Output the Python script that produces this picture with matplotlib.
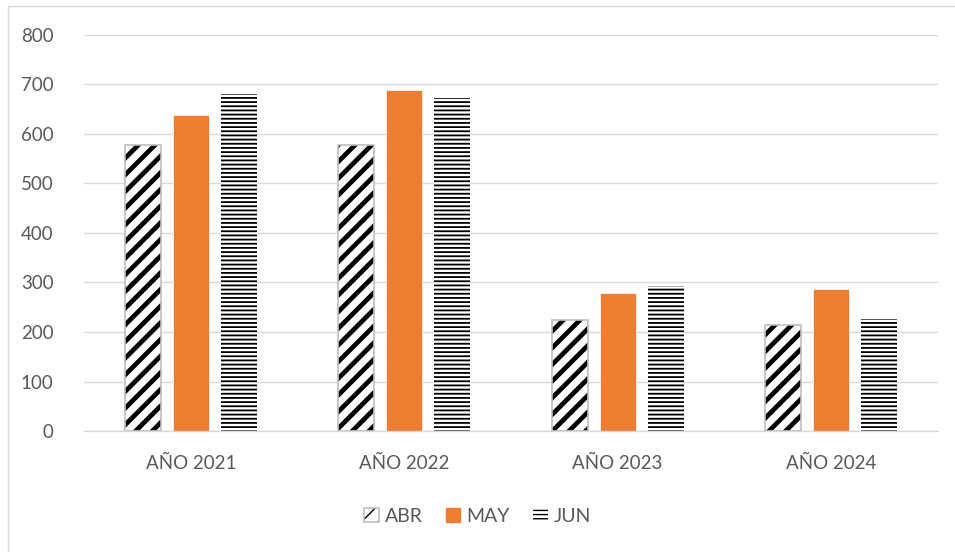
import matplotlib
matplotlib.use('Agg')

import matplotlib.pyplot as plt
from matplotlib.patches import Rectangle, Patch
import numpy as np

categories = ["AÑO 2021", "AÑO 2022", "AÑO 2023", "AÑO 2024"]
abr = [578, 578, 224, 214]
may = [638, 689, 279, 287]
jun = [681, 673, 293, 226]
series_names = ["ABR", "MAY", "JUN"]

plt.rcParams['font.family'] = ['Lato', 'DejaVu Sans']

orange = "#ed7d31"
grey_text = "#595959"
grid_col = "#d9d9d9"

fig = plt.figure(figsize=(9.55, 5.52), dpi=100)
ax = fig.add_axes([0.088, 0.219, 0.894, 0.718])

x = np.arange(len(categories))
w = 0.169
step = 0.225

# ABR: thick black diagonal hatch, grey outline on top
with plt.rc_context({'hatch.linewidth': 3.4}):
    ax.bar(x - step, abr, w, color="white", edgecolor="black", hatch="//", linewidth=0, zorder=2)
    h_abr = Patch(facecolor="white", edgecolor="black", hatch="//", linewidth=0)
ax.bar(x - step, abr, w, fill=False, edgecolor="#bfbfbf", linewidth=1.2, zorder=3)
h_abr_edge = Patch(fill=False, edgecolor="#bfbfbf", linewidth=1.2)
# MAY: solid orange
ax.bar(x, may, w, color=orange, edgecolor="white", linewidth=0.5, zorder=2)
# JUN: dense horizontal lines
with plt.rc_context({'hatch.linewidth': 1.3}):
    ax.bar(x + step, jun, w, color="white", edgecolor="black", hatch="----", linewidth=0, zorder=2)
    h_jun = Patch(facecolor="white", edgecolor="black", hatch="----", linewidth=0)

ax.set_xlim(-0.5, len(categories) - 0.5)
ax.set_ylim(0, 800)
ax.set_yticks(range(0, 801, 100))
ax.set_xticks(x)
ax.set_xticklabels(categories)
ax.yaxis.grid(True, color=grid_col, linewidth=1.0, zorder=0)
ax.set_axisbelow(True)
for s in ["top", "right", "left"]:
    ax.spines[s].set_visible(False)
ax.spines["bottom"].set_color(grid_col)
ax.spines["bottom"].set_linewidth(1.0)
ax.tick_params(axis="x", length=0, labelsize=13.5, colors=grey_text, pad=17)
ax.tick_params(axis="y", length=0, labelsize=13.5, colors=grey_text, pad=22)

h_may = Patch(facecolor=orange, edgecolor=orange)
leg = fig.legend([(h_abr, h_abr_edge), h_may, h_jun], series_names, loc="center",
                 bbox_to_anchor=(0.5, 0.065),
                 ncol=3, frameon=False, fontsize=14, handlelength=0.75, handleheight=0.75,
                 handletextpad=0.3, columnspacing=1.2)
for t in leg.get_texts():
    t.set_color(grey_text)

# chart-area border: only left and top edges fall inside the image
fig.patches.append(Rectangle((7.5 / 955, -0.1), 1.2, 1.1 - 5.5 / 552, transform=fig.transFigure,
                             fill=False, edgecolor=grid_col, linewidth=1.0))

fig.savefig("out.png", dpi=100)
